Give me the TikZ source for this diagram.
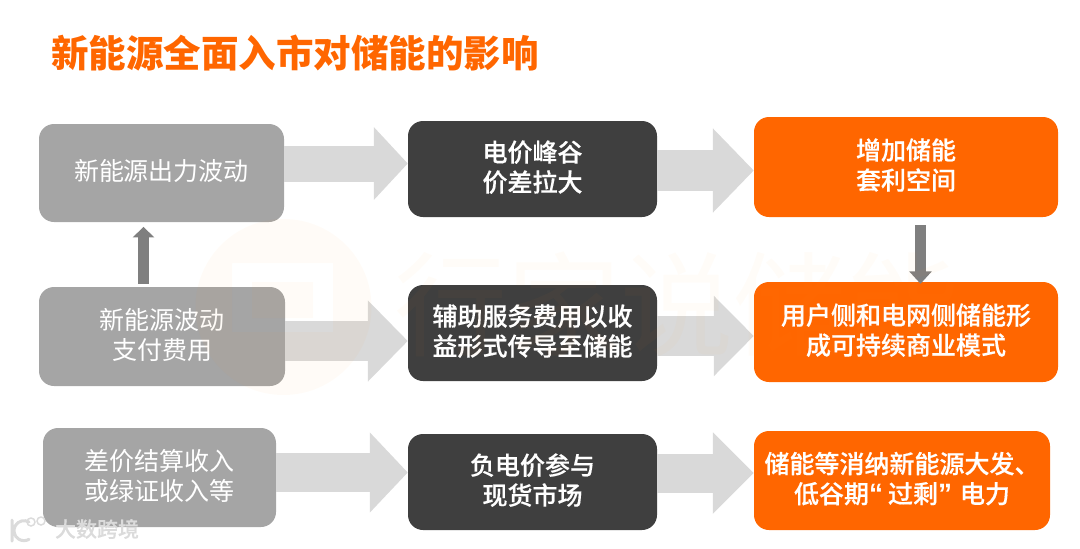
\documentclass[tikz,border=0pt]{standalone}
\usepackage{fontspec}
\setmainfont{Noto Sans CJK SC}
\newfontfamily\medfont[FakeBold=0.4]{Noto Sans CJK SC Medium}
\newfontfamily\quotefont{Liberation Sans}
\usepackage{tikz}
\usetikzlibrary{arrows.meta, positioning, calc}
\definecolor{boxorange}{HTML}{FF6600}
\definecolor{boxdark}{HTML}{3F3F3F}
\definecolor{boxgray}{HTML}{A5A5A5}
\definecolor{arrlight}{HTML}{D9D9D9}
\definecolor{arrgray}{HTML}{7F7F7F}
\definecolor{marktint}{HTML}{FF9A20}
\tikzset{
  basebox/.style={rounded corners=15pt, align=center, text=white, inner sep=0pt, text depth=6pt,
                  font=\fontsize{25}{30}\selectfont},
  graybox/.style={basebox, fill=boxgray},
  darkbox/.style={basebox, fill=boxdark, font=\fontsize{25}{30}\selectfont\medfont},
  orangebox/.style={basebox, fill=boxorange, font=\fontsize{25}{30}\selectfont\medfont},
  bigarr/.style n args={3}{-{Triangle[length=#1pt, width=#2pt]}, line width=#3pt, draw=arrlight},
  smallarr/.style={line width=11.5pt, draw=arrgray},
  marktext/.style={text=marktint, opacity=0.03, font=\fontsize{113}{113}\selectfont},
}
\begin{document}
\begin{tikzpicture}[x=1pt, y=-1pt]
  \useasboundingbox (0,0) rectangle (1080,549);
  \node[anchor=west, inner sep=0pt, text=boxorange, font=\fontsize{37.5}{40}\selectfont\bfseries] (title) at (51,53.5) {新能源全面入市对储能的影响};

  \node[graybox, minimum width=245pt, minimum height=98pt] (g1) at (161.5,173) {新能源出力波动};
  \node[graybox, minimum width=246pt, minimum height=99pt] (g2) at (162,336.5) {新能源波动\\支付费用};
  \node[graybox, minimum width=233pt, minimum height=99pt] (g3) at (159.5,477.5) {差价结算收入\\或绿证收入等};
  \node[darkbox, minimum width=249pt, minimum height=96pt] (d1) at (532.5,169) {电价峰谷\\价差拉大};
  \node[darkbox, minimum width=249pt, minimum height=96pt] (d2) at (532.5,333) {辅助服务费用以收\\益形式传导至储能};
  \node[darkbox, minimum width=249pt, minimum height=96pt] (d3) at (532.5,482) {负电价参与\\现货市场};
  \node[orangebox, minimum width=304pt, minimum height=100pt] (o1) at (906,167) {增加储能\\套利空间};
  \node[orangebox, minimum width=304pt, minimum height=100pt] (o2) at (906,332) {用户侧和电网侧储能形\\成可持续商业模式};
  \node[orangebox, minimum width=296pt, minimum height=99pt] (o3) at (902,480.5) {储能等消纳新能源大发、\\低谷期{\fontsize{28}{30}\selectfont\quotefont\bfseries “}\hspace*{5pt}过剩{\fontsize{28}{30}\selectfont\quotefont\bfseries ”}\hspace*{8pt}电力};

  % big arrows
  \foreach \a/\b/\y/\l/\w/\t in {g1/d1/163.5/34/71/36, d1/o1/170.5/41/82/41, g2/d2/341/40/79/40,
                                 d2/o2/336/40/78/39.5, g3/d3/472.5/38/78/39, d3/o3/473/41/79/39} {
    \draw[bigarr={\l}{\w}{\t}] (\a.east |- 0,\y) -- (\b.west |- 0,\y);
  }
  \draw[smallarr, -{Triangle[length=10.5pt, width=21pt]}, shorten >=4.7pt, shorten <=3pt] (g2.north -| 143.5,0) -- (g1.south -| 143.5,0);
  \draw[smallarr, -{Triangle[length=12.5pt, width=22pt]}, shorten <=8pt, shorten >=-2pt] (o1.south -| 920.5,0) -- (o2.north -| 920.5,0);

  % watermarks
  \fill[marktint, opacity=0.035, even odd rule] (283.5,307) circle (88)
    (232,263) rectangle (333,332) (252,282) rectangle (313,318);
  \node[marktext] (wmtext) at (677,304) {行家说储能};
  \node[text=white!72!gray, font=\fontsize{21}{21}\selectfont\medfont] (wmname) at (97,529) {大数跨境};
  \coordinate (wmc) at (29,522);
  \draw[white!72!gray, line width=3pt, line cap=round] (12,520) -- (12,541)
    (wmc) arc[start angle=-60, end angle=-300, radius=10];
  \draw[white!72!gray, line width=1.5pt] (31,522) circle (4) (41,521) circle (4);
\end{tikzpicture}
\end{document}
